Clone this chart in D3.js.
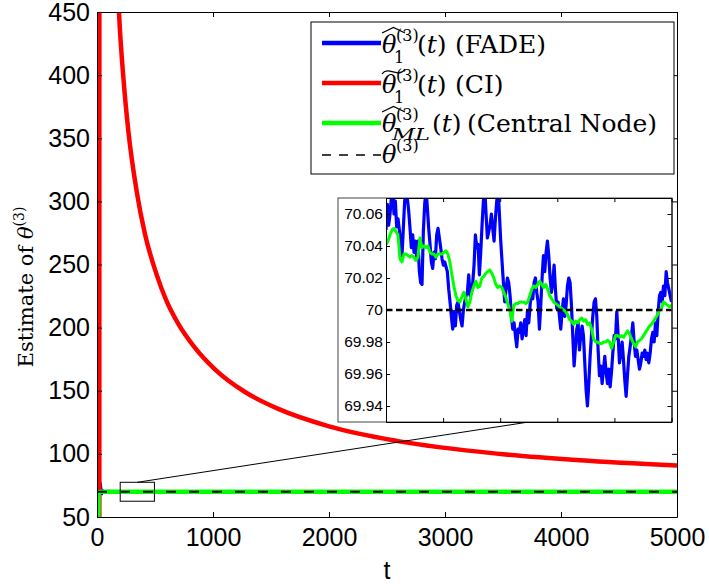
<!DOCTYPE html>
<html>
<head>
<meta charset="utf-8">
<script src="https://cdn.jsdelivr.net/npm/d3@7"></script>
<style>
  body { margin: 0; background: #fff; }
</style>
</head>
<body>
<div id="viz"></div>
<script>
// ---- values ----
var xTicks = [0, 1000, 2000, 3000, 4000, 5000];
var yTicks = [50, 100, 150, 200, 250, 300, 350, 400, 450];
var insetXTicks = [200, 250, 300, 350, 400, 450];
var insetYTicks = [69.94, 69.96, 69.98, 70, 70.02, 70.04, 70.06];
var thetaTrue = 70;

// CI estimate (red)
var ciT = [0, 20, 24, 60, 120, 190, 230, 270, 342, 414, 514, 600, 701, 845, 1017, 1276, 1563, 2000, 2583, 3446, 4164, 5000];
var ciV = [0, 40, 3000, 1190, 650, 449, 395, 356, 308, 274, 242, 221, 203, 184, 167, 149, 135.6, 121.8, 110.3, 100.2, 95, 90.8];

// FADE estimate (blue): start, zoomed window t=200..450 (evenly spaced), tail
var fadeHeadT = [0, 30, 36, 45, 60, 100, 150, 190];
var fadeHeadV = [70, 74, 67.5, 71, 69.8, 70.1, 70.06, 70.05];
var fadeInset = [
  70.050, 70.066, 70.053, 70.060, 70.070, 70.076, 70.060, 70.068, 70.052, 70.057,
  70.050, 70.043, 70.034, 70.051, 70.068, 70.076, 70.070, 70.062, 70.051, 70.039,
  70.047, 70.036, 70.043, 70.032, 70.043, 70.024, 70.017, 70.016, 70.049, 70.066,
  70.076, 70.064, 70.051, 70.041, 70.030, 70.026, 70.036, 70.032, 70.047, 70.051,
  70.045, 70.039, 70.032, 70.028, 70.030, 70.027, 70.024, 70.013, 70.005, 69.996,
  69.988, 69.999, 69.990, 70.003, 70.005, 69.999, 69.994, 69.990, 70.000, 70.005,
  70.009, 70.011, 70.022, 70.009, 70.013, 70.017, 70.028, 70.047, 70.039, 70.041,
  70.022, 70.036, 70.053, 70.068, 70.076, 70.060, 70.045, 70.049, 70.053, 70.060,
  70.051, 70.043, 70.057, 70.068, 70.076, 70.060, 70.043, 70.030, 70.017, 70.005,
  70.013, 70.020, 70.017, 70.009, 69.996, 69.988, 69.992, 69.984, 69.977, 69.988,
  69.986, 69.992, 69.982, 69.988, 69.994, 69.984, 69.999,
  69.992, 70.003, 70.011, 70.007, 70.017, 70.020, 70.011, 70.005, 69.988, 70.003,
  70.020, 70.034, 70.024, 70.036, 70.043, 70.034, 70.020, 70.011, 70.017, 70.028,
  70.013, 70.001, 70.005, 69.996, 69.988, 69.999, 70.007, 69.996, 70.003, 70.015,
  70.020, 70.017, 70.003, 69.984, 69.965, 69.977, 69.988, 69.992, 69.975, 69.984,
  69.990, 69.984, 69.967, 69.950, 69.940, 69.954, 69.971, 69.984, 69.996, 70.005,
  70.007, 69.996, 69.975, 69.959, 69.965, 69.954, 69.963, 69.971, 69.961, 69.954,
  69.963, 69.952, 69.961, 69.973, 69.984, 69.982, 69.999, 69.984, 69.967, 69.973,
  69.980, 69.969, 69.956, 69.946, 69.959, 69.971, 69.977, 69.984, 69.992, 69.980,
  69.971, 69.975, 69.969, 69.963, 69.967, 69.973, 69.971, 69.975, 69.969, 69.973,
  69.967, 69.973, 69.982, 69.986, 69.980, 69.992, 69.984, 69.999, 70.009, 70.011,
  70.005, 70.015, 70.009, 70.024, 70.017, 70.013, 70.009, 70.005
];
var fadeTailT = [500, 750, 1000, 1500, 2000, 2500, 3000, 3500, 4000, 4500, 5000];
var fadeTailV = [70.01, 69.98, 70.02, 70.0, 69.99, 70.01, 70.0, 70.0, 69.99, 70.0, 70.0];

// Central node ML estimate (green)
var mlHeadT = [0, 12, 14, 40, 100, 150, 190];
var mlHeadV = [20, 45, 69.6, 70.05, 70.05, 70.045, 70.04];
var mlInset = [
  70.041, 70.043, 70.047, 70.050, 70.051, 70.049, 70.047, 70.032, 70.030, 70.035,
  70.035, 70.034, 70.033, 70.034, 70.033, 70.031, 70.033, 70.045, 70.039, 70.040,
  70.039, 70.040, 70.036, 70.035, 70.035, 70.033, 70.035, 70.035, 70.035, 70.036,
  70.037, 70.035, 70.030, 70.022, 70.015, 70.009, 70.006, 70.005, 70.008, 70.011,
  70.007, 70.002, 70.005, 70.011, 70.015, 70.018, 70.014, 70.015, 70.020, 70.021,
  70.023, 70.024, 70.025, 70.023, 70.020, 70.016, 70.014, 70.015, 70.014, 70.011,
  70.008, 70.004, 70.000, 69.993, 70.003, 70.004, 70.004, 70.005, 70.005, 70.005,
  70.004, 70.005,
  70.009, 70.013, 70.015, 70.014, 70.016, 70.018, 70.016, 70.014, 70.016, 70.013,
  70.009, 70.007, 70.005, 70.004, 70.003, 70.002, 70.001, 70.000, 69.999, 69.997,
  69.994, 69.993, 69.991, 69.993, 69.992, 69.994, 69.995, 69.993, 69.994, 69.991,
  69.992, 69.988, 69.982, 69.980, 69.980, 69.979, 69.979, 69.980, 69.980, 69.981,
  69.980, 69.976, 69.980, 69.984, 69.984, 69.983, 69.984, 69.983, 69.985, 69.987,
  69.985, 69.982, 69.979, 69.977, 69.980, 69.981, 69.982, 69.984, 69.986, 69.988,
  69.990, 69.991, 69.993, 69.995, 69.997, 70.000, 70.001, 70.005, 70.004, 70.003,
  70.002, 70.003
];
var mlTailT = [500, 1000, 2000, 3000, 4000, 5000];
var mlTailV = [70.003, 70.0, 70.0, 70.0, 70.0, 70.0];

// legend entries
var legendColors = ["#0000ff", "#ff0000", "#00ff00", "#000000"];
var legendAccents = ["hat", "tilde", "hat", ""];
var legendSubs = ["1", "1", "ML", ""];
var legendLabels = ["(FADE)", "(CI)", "(Central Node)", ""];

// ---- helpers to turn the arrays into points ----
function pairs(ts, vs) { return ts.map(function(t, i) { return {t: t, v: vs[i]}; }); }
function windowSamples(vs) {
  var step = (insetXTicks[insetXTicks.length - 1] - insetXTicks[0]) / (vs.length - 1);
  return vs.map(function(v, i) { return {t: insetXTicks[0] + i * step, v: v}; });
}

var ciData = pairs(ciT, ciV);
var fadeWin = windowSamples(fadeInset);
var mlWin = windowSamples(mlInset);
var fadeData = pairs(fadeHeadT, fadeHeadV).concat(fadeWin, pairs(fadeTailT, fadeTailV));
var mlData = pairs(mlHeadT, mlHeadV).concat(mlWin, pairs(mlTailT, mlTailV));
var trueData = pairs([0, 5000], [thetaTrue, thetaTrue]);

var sans = "'Liberation Sans', Arial, sans-serif";
var serif = "'DejaVu Serif', serif";

var svg = d3.select("#viz").append("svg")
  .attr("width", 709)
  .attr("height", 586)
  .style("display", "block");

// main scales
var x = d3.scaleLinear().domain([0, 5000]).range([97, 677]);
var y = d3.scaleLinear().domain([50, 450]).range([517, 12]);

var defs = svg.append("defs");
defs.append("clipPath").attr("id", "clipMain").append("rect")
  .attr("x", 97).attr("y", 12).attr("width", 580).attr("height", 505);

var line = d3.line().x(function(d) { return x(d.t); }).y(function(d) { return y(d.v); });
var smooth = d3.line().curve(d3.curveMonotoneX)
  .x(function(d) { return x(d.t); }).y(function(d) { return y(d.v); });

var plot = svg.append("g").attr("clip-path", "url(#clipMain)");
plot.append("path").datum(fadeData).attr("d", line)
  .attr("fill", "none").attr("stroke", "#0000ff").attr("stroke-width", 3.5);
plot.append("path").datum(ciData).attr("d", smooth)
  .attr("fill", "none").attr("stroke", "#ff0000").attr("stroke-width", 4.5);
plot.append("path").datum(mlData).attr("d", line)
  .attr("fill", "none").attr("stroke", "#00ff00").attr("stroke-width", 4.5);
plot.append("path").datum(trueData).attr("d", line)
  .attr("fill", "none").attr("stroke", "#000").attr("stroke-width", 2)
  .attr("stroke-dasharray", "10,13");

// axes, ticks point inward like matlab
function styleAxis(g, size) {
  g.attr("font-family", sans).attr("font-size", size);
  g.selectAll("text").attr("fill", "#000");
  g.selectAll("line, path").attr("stroke", "#000");
}
svg.append("g").attr("transform", "translate(0,517)")
  .call(d3.axisBottom(x).tickValues(xTicks).tickSize(-5).tickSizeOuter(0).tickPadding(11).tickFormat(d3.format("d")))
  .call(styleAxis, 25);
svg.append("g").attr("transform", "translate(0,12)")
  .call(d3.axisTop(x).tickValues(xTicks).tickSize(-5).tickSizeOuter(0).tickFormat(""))
  .call(styleAxis, 25);
svg.append("g").attr("transform", "translate(97,0)")
  .call(d3.axisLeft(y).tickValues(yTicks).tickSize(-5).tickSizeOuter(0).tickPadding(7))
  .call(styleAxis, 25);
svg.append("g").attr("transform", "translate(677,0)")
  .call(d3.axisRight(y).tickValues(yTicks).tickSize(-5).tickSizeOuter(0).tickFormat(""))
  .call(styleAxis, 25);

svg.append("text")
  .attr("x", 387).attr("y", 579)
  .attr("text-anchor", "middle")
  .attr("font-family", sans).attr("font-size", 25)
  .text("t");

var ylab = svg.append("text")
  .attr("transform", "translate(33,287) rotate(-90)")
  .attr("text-anchor", "middle")
  .attr("font-family", serif).attr("font-size", 21);
ylab.append("tspan").text("Estimate of ");
ylab.append("tspan").attr("font-style", "italic").text("θ");
ylab.append("tspan").attr("font-size", 14).attr("dy", -9).text("(3)");

// zoom box and the line to the inset
var box = {t0: 200, t1: 495, v0: 62.5, v1: 77.5};
svg.append("rect")
  .attr("x", x(box.t0)).attr("y", y(box.v1))
  .attr("width", x(box.t1) - x(box.t0)).attr("height", y(box.v0) - y(box.v1))
  .attr("fill", "none").attr("stroke", "#000").attr("stroke-width", 1);

// inset scales
var xi = d3.scaleLinear().domain([200, 450]).range([386, 671.5]);
var yi = d3.scaleLinear().domain([69.93, 70.07]).range([422, 198]);

svg.append("line")
  .attr("x1", x((box.t0 + box.t1) / 2)).attr("y1", y(box.v1))
  .attr("x2", (xi.range()[0] + xi.range()[1]) / 2).attr("y2", yi.range()[0])
  .attr("stroke", "#000").attr("stroke-width", 1);

// legend
var legend = svg.append("g");
legend.append("rect")
  .attr("x", 311).attr("y", 22).attr("width", 363).attr("height", 152)
  .attr("fill", "#fff").attr("stroke", "#000").attr("stroke-width", 1);

var rowLine = [43, 83, 123, 155];
var rowBase = [53, 93, 132, 163];
legendColors.forEach(function(c, i) {
  var b = rowBase[i];
  var dashed = i === 3;
  var isML = legendSubs[i] === "ML";
  legend.append("line")
    .attr("x1", 322).attr("x2", 381).attr("y1", rowLine[i]).attr("y2", rowLine[i])
    .attr("stroke", c).attr("stroke-width", dashed ? 1.3 : 4.5)
    .attr("stroke-dasharray", dashed ? "9,8" : null);

  legend.append("text").attr("x", 382).attr("y", b)
    .attr("font-family", serif).attr("font-size", 24).attr("font-style", "italic")
    .text("θ");
  legend.append("text").attr("x", 396).attr("y", b - 12)
    .attr("font-family", serif).attr("font-size", 16)
    .text("(3)");

  if (legendAccents[i] === "hat") {
    legend.append("path")
      .attr("d", "M382," + (b - 20) + " L393.5," + (b - 25.5) + " L405," + (b - 20))
      .attr("fill", "none").attr("stroke", "#000").attr("stroke-width", 1.3);
  } else if (legendAccents[i] === "tilde") {
    legend.append("path")
      .attr("d", "M382," + (b - 19) + " C388," + (b - 28) + " 399," + (b - 14) + " 405," + (b - 24))
      .attr("fill", "none").attr("stroke", "#000").attr("stroke-width", 1.3);
  }

  if (isML) {
    legend.append("text").attr("x", 392).attr("y", b + 8)
      .attr("font-family", serif).attr("font-size", 16).attr("font-style", "italic")
      .attr("textLength", 38).attr("lengthAdjust", "spacingAndGlyphs")
      .text("ML");
  } else if (legendSubs[i]) {
    legend.append("text").attr("x", 394).attr("y", b + 10)
      .attr("font-family", serif).attr("font-size", 16)
      .text(legendSubs[i]);
  }

  if (legendLabels[i]) {
    var t = legend.append("text").attr("x", isML ? 432 : 417).attr("y", b)
      .attr("font-family", serif).attr("font-size", 25);
    t.append("tspan").text("(");
    t.append("tspan").attr("font-style", "italic").text("t");
    t.append("tspan").text(")");
    legend.append("text").attr("x", isML ? 467 : 455).attr("y", b)
      .attr("font-family", serif).attr("font-size", 25)
      .text(legendLabels[i]);
  }
});

// ---- inset ----
var inset = svg.append("g");
inset.append("rect")
  .attr("x", 338).attr("y", 198).attr("width", 334).attr("height", 224)
  .attr("fill", "#fff").attr("stroke", "#444").attr("stroke-width", 1);

defs.append("clipPath").attr("id", "clipInset").append("rect")
  .attr("x", 386).attr("y", 198).attr("width", 285.5).attr("height", 224);

var iline = d3.line().x(function(d) { return xi(d.t); }).y(function(d) { return yi(d.v); });
var ip = inset.append("g").attr("clip-path", "url(#clipInset)");
ip.append("path").datum(fadeWin).attr("d", iline)
  .attr("fill", "none").attr("stroke", "#0000ff").attr("stroke-width", 3.2)
  .attr("stroke-linejoin", "round");
ip.append("path").datum(mlWin).attr("d", iline)
  .attr("fill", "none").attr("stroke", "#00ff00").attr("stroke-width", 3)
  .attr("stroke-linejoin", "round");
ip.append("path").datum(pairs([200, 450], [thetaTrue, thetaTrue])).attr("d", iline)
  .attr("fill", "none").attr("stroke", "#000").attr("stroke-width", 2.7)
  .attr("stroke-dasharray", "6.5,3.5");

var insetFmt = function(d) { return d === 70 ? "70" : d.toFixed(2); };
inset.append("g").attr("transform", "translate(386,0)")
  .call(d3.axisLeft(yi).tickValues(insetYTicks).tickSize(-4).tickSizeOuter(0).tickPadding(3).tickFormat(insetFmt))
  .call(styleAxis, 15.5);
inset.append("g").attr("transform", "translate(671.5,0)")
  .call(d3.axisRight(yi).tickValues(insetYTicks).tickSize(-4).tickSizeOuter(0).tickFormat(""))
  .call(styleAxis, 15.5);
inset.append("g").attr("transform", "translate(0,422)")
  .call(d3.axisBottom(xi).tickValues(insetXTicks).tickSize(-4).tickSizeOuter(0).tickFormat(""))
  .call(styleAxis, 15.5);
inset.append("g").attr("transform", "translate(0,198)")
  .call(d3.axisTop(xi).tickValues(insetXTicks).tickSize(-4).tickSizeOuter(0).tickFormat(""))
  .call(styleAxis, 15.5);
</script>
</body>
</html>
